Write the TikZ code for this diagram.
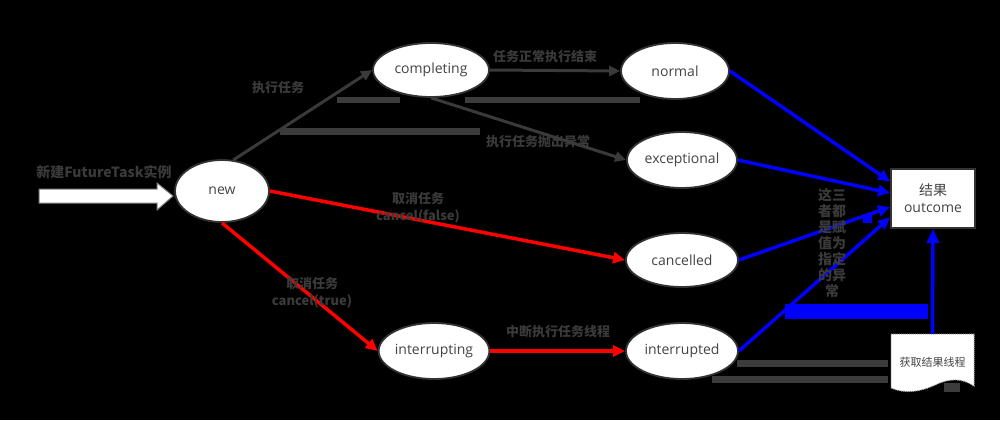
\documentclass[tikz,border=0pt]{standalone}
\usepackage{fontspec}
\setmainfont{Open Sans}
\newfontfamily\cjk{Noto Sans CJK SC}
\usetikzlibrary{shapes.geometric,arrows.meta,calc}
\definecolor{txt}{HTML}{444444}
\definecolor{lbl}{HTML}{3A3A3A}
\definecolor{barc}{HTML}{3C3C3C}
\definecolor{edgec}{HTML}{333333}
\begin{document}
\begin{tikzpicture}[x=1pt,y=-1pt,
 state/.style={ellipse, draw=edgec, line width=1.8pt, fill=white, text=txt, font=\fontsize{14}{16}\selectfont, inner sep=0pt},
 grayarrow/.style={draw=lbl, line width=3pt, -{Triangle[length=11pt,width=10pt]}},
 redarrow/.style={draw=red, line width=3.5pt, -{Triangle[length=12pt,width=11pt]}},
 bluearrow/.style={draw=blue, line width=3.5pt, -{Triangle[length=12pt,width=11pt]}},
 lab/.style={text=lbl, font=\cjk\bfseries\fontsize{13}{17}\selectfont, inner sep=0pt, align=center},
 barfill/.style={fill=barc},
]
\fill[black] (0,0) rectangle (1000,420);
\useasboundingbox (0,0) rectangle (1000,420);

% stray dark bars
\fill[barfill] (337,97) rectangle (400,103);
\fill[barfill] (465,97) rectangle (640,103);
\fill[barfill] (280,128) rectangle (480,135);
\fill[barfill] (737,360) rectangle (888,367);
\fill[barfill] (712,376) rectangle (888,383);
\fill[blue] (785,304) rectangle (928,319);
\fill[blue] (863,215) rectangle (872,223);

% states
\node[state, minimum width=94pt, minimum height=62pt] (new) at (222,191) {new};
\node[state, minimum width=116pt, minimum height=54pt] (completing) at (431,70) {completing};
\node[state, minimum width=108pt, minimum height=56pt] (normal) at (675,71) {normal};
\node[state, minimum width=110pt, minimum height=56pt] (exceptional) at (682,160) {exceptional};
\node[state, minimum width=112pt, minimum height=54pt] (cancelled) at (682,260) {cancelled};
\node[state, minimum width=110pt, minimum height=56pt] (interrupting) at (434,351) {interrupting};
\node[state, minimum width=112pt, minimum height=56pt] (interrupted) at (682,351) {interrupted};

\node[draw=edgec, line width=1.8pt, fill=white, minimum width=84pt, minimum height=59pt,
      align=center, text=txt, font=\fontsize{14}{17}\selectfont, inner sep=0pt] (outcome) at (933,198.5) {{\cjk 结果}\\outcome};

% document shape
\fill[white] (891,334) -- (974,334) -- (974,386) .. controls (962,378) and (950,378) .. (935,385) .. controls (920,392) and (905,394) .. (891,388) -- cycle;
\draw[gray!70, line width=1pt, densely dotted] (891,334) -- (974,334) -- (974,386) .. controls (962,378) and (950,378) .. (935,385) .. controls (920,392) and (905,394) .. (891,388) -- cycle;
\fill[barfill] (944,383) rectangle (960,392);
\node[minimum width=83pt, minimum height=56pt, inner sep=0pt, text=txt, font=\cjk\fontsize{11}{13}\selectfont] (doc) at (932.5,362) {获取结果线程};

% entry arrow
\coordinate (start) at (39,196);
\draw[fill=white, draw=gray, line width=1pt] (start) ++(0,-7) -- (157,189) -- (157,183) -- (173,196) -- (157,210) -- (157,203) -- (39,203) -- cycle;
\node[lab, font=\cjk\bfseries\fontsize{14}{16}\selectfont] (entrylabel) at (104,172) {新建FutureTask实例};

% connectors
\draw[grayarrow] (new.70) -- (completing.west);
\draw[grayarrow] (completing.east) -- (normal.west);
\draw[grayarrow] (completing.south) -- (exceptional.west);
\draw[redarrow] (new.east) -- (cancelled.west);
\draw[redarrow] (new.south) -- (interrupting.west);
\draw[redarrow] (interrupting.east) -- (interrupted.west);

\coordinate (o1) at ($(outcome.north west)!0.22!(outcome.south west)$);
\coordinate (o2) at ($(outcome.north west)!0.41!(outcome.south west)$);
\coordinate (o3) at ($(outcome.north west)!0.64!(outcome.south west)$);
\coordinate (o4) at ($(outcome.north west)!0.81!(outcome.south west)$);
\draw[bluearrow] (normal.east) -- (o1);
\draw[bluearrow] (exceptional.east) -- (o2);
\draw[bluearrow] (cancelled.east) -- (o3);
\draw[bluearrow] (interrupted.east) -- (o4);
\draw[bluearrow, -{Triangle[length=14pt,width=12pt]}] (doc.north) -- (outcome.south);

% labels
\node[lab] (l1) at (278,88) {执行任务};
\node[lab] (l2) at (545,57) {任务正常执行结束};
\node[lab] (l3) at (538,142) {执行任务抛出异常};
\node[lab] (l4) at (418,208) {取消任务\\cancel(false)};
\node[lab] (l5) at (312,293) {取消任务\\cancel(true)};
\node[lab] (l6) at (558,332) {中断执行任务线程};
\node[lab, font=\cjk\bfseries\fontsize{14}{16}\selectfont] (l7) at (832,243) {这三\\者都\\是赋\\值为\\指定\\的异\\常};
\end{tikzpicture}
\end{document}
